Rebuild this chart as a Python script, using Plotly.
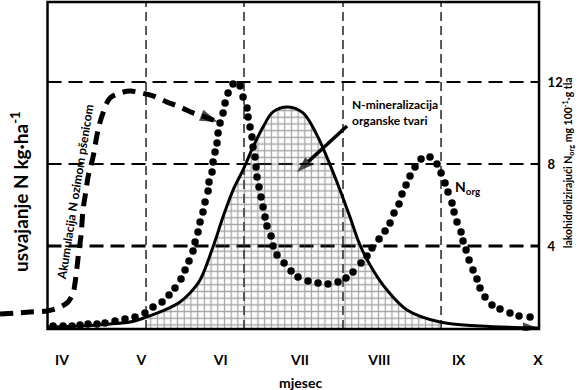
import numpy as np
import plotly.graph_objects as go

# ---------------- data (x in months: IV=4 ... X=10; y in mg N/100 g scale) ----------------
months = [4, 5, 6, 7, 8, 9, 10]
month_labels = ["IV", "V", "VI", "VII", "VIII", "IX", "X"]
right_ticks = [4, 8, 12]

# N uptake by winter wheat (dashed curve, last point = arrow tip)
acc_x = [3.218, 3.408, 3.597, 3.811, 3.975, 4.076, 4.139, 4.164, 4.189, 4.214, 4.240, 4.265,
         4.303, 4.328, 4.391, 4.454, 4.517, 4.605, 4.731, 4.857, 5.008, 5.147, 5.324, 5.487,
         5.651, 5.777, 5.966]
acc_y = [0.68, 0.73, 0.78, 0.83, 1.02, 1.27, 1.71, 2.20, 2.98, 3.80, 4.54, 5.76,
         6.73, 7.37, 8.34, 9.66, 10.49, 11.22, 11.46, 11.56, 11.46, 11.32, 11.02, 10.78,
         10.49, 10.34, 10.05]

# N mineralization of organic matter (solid curve, ends in arrow)
min_x = [3.824, 4.227, 4.605, 4.857, 5.071, 5.298, 5.487, 5.613, 5.740, 5.903, 6.029, 6.156,
         6.282, 6.408, 6.534, 6.660, 6.849, 7.038, 7.214, 7.353, 7.504, 7.630, 7.756, 7.920,
         8.097, 8.349, 8.765, 9.269, 10.0]
min_y = [0.05, 0.10, 0.20, 0.29, 0.54, 0.88, 1.27, 1.71, 2.34, 3.95, 5.41, 6.73,
         7.71, 8.83, 9.80, 10.54, 10.78, 10.49, 9.41, 8.20, 6.73, 5.41, 4.05, 2.83,
         1.85, 0.88, 0.29, 0.10, 0.00]

# pointer from the "N-mineralizacija" label (tail, tip)
pointer_x = [7.593, 6.962]
pointer_y = [9.85, 7.61]

# N_org (dotted curve)
norg_x = [3.887, 4.013, 4.126, 4.227, 4.328, 4.441, 4.542, 4.668, 4.794, 4.920, 5.046, 5.147,
          5.261, 5.349, 5.424, 5.500, 5.551, 5.601, 5.651, 5.677, 5.714, 5.740, 5.777, 5.803,
          5.841, 5.853, 5.891, 5.904, 5.929, 5.954, 5.967, 5.992, 6.030, 6.055, 6.093, 6.156,
          6.244, 6.282, 6.332, 6.345, 6.370, 6.395, 6.408, 6.433, 6.446, 6.458, 6.483, 6.509,
          6.534, 6.559, 6.584, 6.635, 6.660, 6.710, 6.799, 6.887, 6.975, 7.101, 7.227, 7.353,
          7.479, 7.580, 7.668, 7.769, 7.845, 7.908, 7.996, 8.072, 8.135, 8.185, 8.248, 8.286,
          8.337, 8.387, 8.450, 8.526, 8.639, 8.727, 8.778, 8.828, 8.866, 8.916, 8.942, 8.979,
          9.030, 9.055, 9.093, 9.131, 9.181, 9.231, 9.269, 9.332, 9.420, 9.521, 9.647, 9.761,
          9.900]
norg_y = [0.10, 0.10, 0.10, 0.15, 0.20, 0.20, 0.24, 0.34, 0.44, 0.54, 0.73, 1.02,
          1.27, 1.61, 1.95, 2.39, 2.83, 3.27, 3.76, 4.20, 4.68, 5.17, 5.66, 6.15,
          6.68, 7.12, 7.61, 8.10, 8.59, 9.02, 9.51, 10.00, 10.49, 10.98, 11.46, 11.90,
          11.80, 11.27, 10.73, 10.29, 9.80, 9.32, 8.83, 8.34, 7.85, 7.37, 6.88, 6.39,
          5.90, 5.41, 4.98, 4.49, 4.00, 3.56, 3.17, 2.78, 2.49, 2.29, 2.20, 2.15,
          2.24, 2.44, 2.73, 3.17, 3.51, 3.90, 4.34, 4.73, 5.12, 5.61, 6.05, 6.54,
          6.98, 7.41, 7.85, 8.24, 8.34, 8.00, 7.56, 7.07, 6.63, 6.10, 5.66, 5.17,
          4.68, 4.24, 3.80, 3.32, 2.83, 2.39, 1.95, 1.51, 1.12, 0.93, 0.73, 0.59,
          0.54]

# frame and dashed grid positions
frame_x = (3.817, 10.013)
frame_y = (-0.05, 15.9)
vgrid = [5.059, 6.294, 7.542, 8.778]
hgrid = [4, 8, 12]

FONT = "Lato, 'Open Sans', sans-serif"


def arrow_sizes(n, size):
    s = [0] * n
    s[-1] = size
    return s


fig = go.Figure()

# hatched area under mineralization curve (between V and IX grid lines)
mx = np.array(min_x)
my = np.array(min_y)
mask = (mx >= vgrid[0]) & (mx <= vgrid[-1])
fig.add_trace(go.Scatter(
    x=mx[mask], y=my[mask], mode="lines", line=dict(width=0, shape="spline"),
    fill="tozeroy", fillcolor="rgba(255,255,255,0)",
    fillpattern=dict(shape="+", size=6.7, solidity=0.33, fgcolor="#4a4a4a",
                     bgcolor="rgba(255,255,255,0)"),
    hoverinfo="skip"))

# mineralization curve with arrow at its end
fig.add_trace(go.Scatter(x=min_x, y=min_y, mode="lines+markers",
                         line=dict(color="black", width=3, shape="spline"),
                         marker=dict(symbol="arrow", angleref="previous", color="black",
                                     size=arrow_sizes(len(min_x), 16), line=dict(width=0)),
                         hoverinfo="skip"))

# accumulation (dashed) with arrow at its end
fig.add_trace(go.Scatter(x=acc_x, y=acc_y, mode="lines+markers",
                         line=dict(color="black", width=5, dash="13px,8px", shape="spline"),
                         marker=dict(symbol="arrow", angleref="previous", color="black",
                                     size=arrow_sizes(len(acc_x), 19), line=dict(width=0)),
                         hoverinfo="skip"))

# pointer arrow to hatched area
fig.add_trace(go.Scatter(x=pointer_x, y=pointer_y, mode="lines+markers",
                         line=dict(color="black", width=3.5),
                         marker=dict(symbol="arrow", angleref="previous", color="black",
                                     size=arrow_sizes(len(pointer_x), 17), line=dict(width=0)),
                         hoverinfo="skip"))

# N_org dotted
fig.add_trace(go.Scatter(x=norg_x, y=norg_y, mode="markers", yaxis="y2",
                         marker=dict(color="black", size=7.5), hoverinfo="skip"))

shapes = []
for gx in vgrid:
    shapes.append(dict(type="line", xref="x", yref="y", x0=gx, x1=gx, y0=frame_y[0], y1=frame_y[1],
                       line=dict(color="black", width=1.3, dash="9px,5px"), layer="below"))
for gy in hgrid:
    shapes.append(dict(type="line", xref="x", yref="y", x0=frame_x[0], x1=frame_x[1], y0=gy, y1=gy,
                       line=dict(color="black", width=3 if gy == 4 else 1.8, dash="14px,7px"),
                       layer="below"))
shapes.append(dict(type="rect", xref="x", yref="y", x0=frame_x[0], x1=frame_x[1],
                   y0=frame_y[0], y1=frame_y[1], line=dict(color="black", width=2.5)))

bold = dict(family=FONT, color="black", weight="bold")

annotations = [
    # x axis title
    dict(text="mjesec", x=7, xref="x", y=-0.157, yref="paper", showarrow=False,
         font=dict(size=14, **bold), yanchor="middle"),
    # left title
    dict(text="usvajanje N kg·ha<sup>-1</sup>", x=0.037, xref="paper", y=0.42, yref="paper",
         xanchor="center", yanchor="middle",
         textangle=-90, showarrow=False, font=dict(size=19, **bold)),
    # right title
    dict(text="lakohidrolizirajući N<sub>org</sub> mg 100<sup>-1</sup>·g tla", x=1.0518, xref="paper",
         y=0.507, yref="paper", xanchor="center", yanchor="middle",
         textangle=-90, showarrow=False, font=dict(size=10.5, **bold)),
    # accumulation label
    dict(text="Akumulacija N ozimom pšenicom", x=4.160, y=6.63, xref="x", yref="y",
         xanchor="center", yanchor="middle",
         textangle=-81, showarrow=False, font=dict(size=12, **bold)),
    # mineralization label
    dict(text="N-mineralizacija<br>organske tvari", x=7.631, y=10.49, xref="x", yref="y",
         xanchor="left", align="left", showarrow=False, font=dict(size=12, **bold)),
    # N_org label
    dict(text="N<sub>org</sub>", x=8.929, y=6.83, xref="x", yref="y", xanchor="left",
         showarrow=False, font=dict(size=14, **bold)),
]

yr = [-0.146, 16.0]
fig.update_layout(
    width=580, height=390,
    margin=dict(l=0, r=39, t=0, b=59),
    paper_bgcolor="white", plot_bgcolor="white",
    showlegend=False,
    shapes=shapes, annotations=annotations,
    xaxis=dict(range=[3.218, 10.038], tickvals=months, ticktext=month_labels,
               showgrid=False, zeroline=False, showline=False,
               ticks="outside", ticklen=16, tickcolor="rgba(0,0,0,0)",
               tickfont=dict(size=14, **bold)),
    yaxis=dict(range=yr, showgrid=False, zeroline=False, showline=False,
               showticklabels=False),
    yaxis2=dict(range=yr, overlaying="y", side="right", tickvals=right_ticks,
                showgrid=False, zeroline=False, showline=False,
                ticks="outside", ticklen=3, tickcolor="rgba(0,0,0,0)",
                tickfont=dict(size=13, **bold)),
)

fig.write_html("out.html", config={"displayModeBar": False},
               post_script="document.body.style.margin='0px';")
